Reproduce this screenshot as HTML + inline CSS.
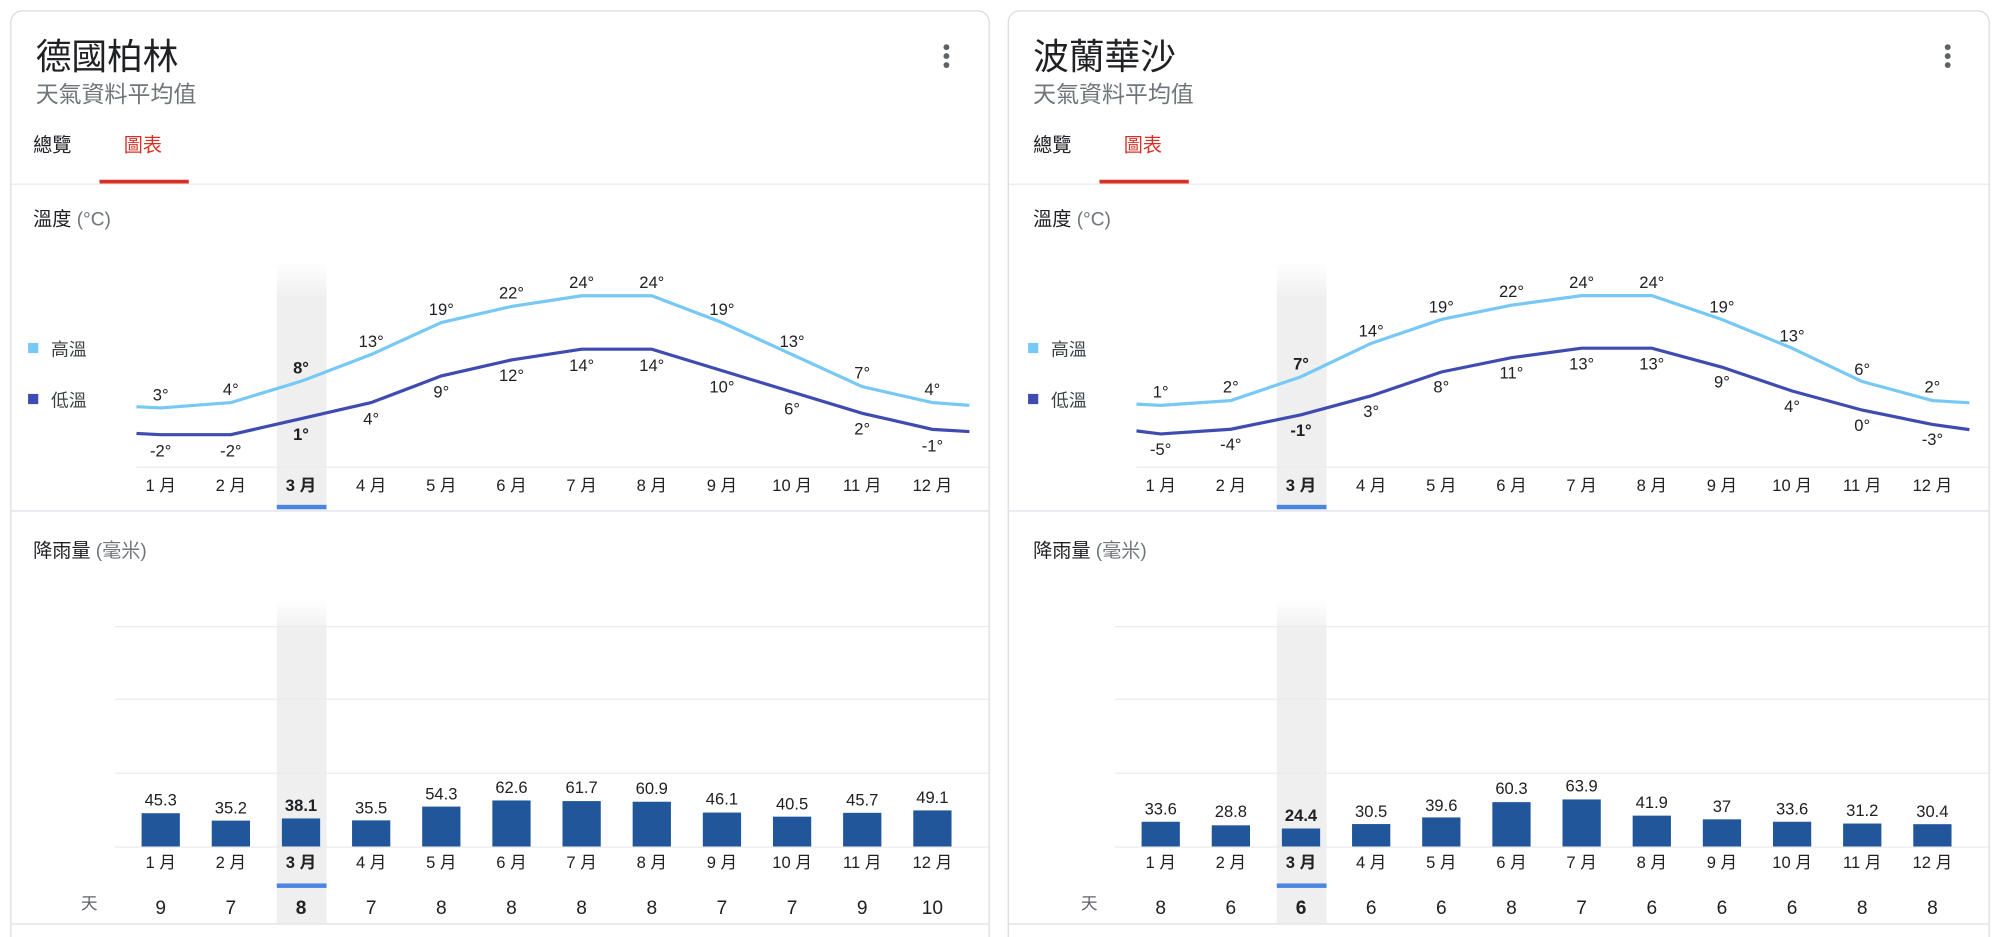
<!DOCTYPE html>
<html><head><meta charset="utf-8"><style>
html,body{margin:0;padding:0;background:#fff;}
svg{display:block;}
text{font-family:"Liberation Sans","Noto Sans CJK TC",sans-serif;fill:#202124;}
.t{font-size:28px;}
.s{font-size:18px;fill:#70757a;}
.tab{font-size:15px;}
.h{font-size:15px;}
.g{fill:#70757a;}
.m{font-size:13px;text-anchor:middle;fill:#3c4043;}
.v{font-size:13px;text-anchor:middle;fill:#3c4043;}
.b{font-weight:bold;fill:#202124;}
.d{font-size:15px;text-anchor:middle;fill:#202124;}
</style></head><body>
<svg width="2000" height="937" viewBox="0 0 1568 735" preserveAspectRatio="none" xmlns="http://www.w3.org/2000/svg">
<defs>
<linearGradient id="hl" x1="0" y1="0" x2="0" y2="1"><stop offset="0" stop-color="#f1f1f1" stop-opacity="0"/><stop offset="0.15" stop-color="#efefef"/><stop offset="1" stop-color="#efefef"/></linearGradient>
<linearGradient id="hl2" x1="0" y1="0" x2="0" y2="1"><stop offset="0" stop-color="#f1f1f1" stop-opacity="0"/><stop offset="0.1" stop-color="#efefef"/><stop offset="1" stop-color="#efefef"/></linearGradient>
</defs>

<!-- CARD 1 -->
<g>
<rect x="8.5" y="8.5" width="767" height="740" rx="9" fill="#fff" stroke="#dadce0"/>
<text x="28" y="54" class="t">德國柏林</text>
<text x="28" y="80" class="s">天氣資料平均值</text>
<circle cx="742" cy="37" r="2.3" fill="#5f6368"/><circle cx="742" cy="44" r="2.3" fill="#5f6368"/><circle cx="742" cy="51" r="2.3" fill="#5f6368"/>
<text x="26" y="119" class="tab">總覽</text>
<text x="97" y="119" class="tab" style="fill:#d93025">圖表</text>
<rect x="78" y="141" width="70" height="3" fill="#d93025"/>
<rect x="9" y="144" width="766" height="1" fill="#e8eaed"/>
<text x="26" y="177" class="h">溫度 <tspan class="g">(°C)</tspan></text>
<rect x="217" y="205" width="39" height="192" fill="url(#hl)"/>
<rect x="22" y="269" width="8" height="8" fill="#76c8f5"/><text x="40" y="279" style="font-size:14px;fill:#3c4043">高溫</text>
<rect x="22" y="309" width="8" height="8" fill="#3f4bb0"/><text x="40" y="319" style="font-size:14px;fill:#3c4043">低溫</text>
<polyline fill="none" stroke="#76c8f5" stroke-width="2.5" points="107,319 126,320 181,315.8 236,299.1 291,278.1 346,253 401,240.4 456,232 511,232 566,253 621,278.1 676,303.3 731,315.8 760,318"/>
<polyline fill="none" stroke="#3f4bb0" stroke-width="2.5" points="107,340 126,341 181,341 236,328.4 291,315.8 346,294.9 401,282.3 456,273.9 511,273.9 566,290.7 621,307.5 676,324.2 731,336.8 760,338.5"/>
<g class="v">
<text x="126" y="314">3°</text><text x="181" y="310">4°</text><text x="236" y="293" class="b">8°</text><text x="291" y="272">13°</text><text x="346" y="247">19°</text><text x="401" y="234">22°</text><text x="456" y="226">24°</text><text x="511" y="226">24°</text><text x="566" y="247">19°</text><text x="621" y="272">13°</text><text x="676" y="297">7°</text><text x="731" y="310">4°</text>
<text x="126" y="358">-2°</text><text x="181" y="358">-2°</text><text x="236" y="345" class="b">1°</text><text x="291" y="333">4°</text><text x="346" y="312">9°</text><text x="401" y="299">12°</text><text x="456" y="291">14°</text><text x="511" y="291">14°</text><text x="566" y="308">10°</text><text x="621" y="325">6°</text><text x="676" y="341">2°</text><text x="731" y="354">-1°</text>
</g>
<rect x="107" y="366" width="668" height="1" fill="#ebebeb"/>
<g class="m">
<text x="126" y="385">1 月</text><text x="181" y="385">2 月</text><text x="236" y="385" class="b">3 月</text><text x="291" y="385">4 月</text><text x="346" y="385">5 月</text><text x="401" y="385">6 月</text><text x="456" y="385">7 月</text><text x="511" y="385">8 月</text><text x="566" y="385">9 月</text><text x="621" y="385">10 月</text><text x="676" y="385">11 月</text><text x="731" y="385">12 月</text>
</g>
<rect x="217" y="396" width="39" height="3.5" fill="#4a86e0"/>
<rect x="9" y="400" width="766" height="1.5" fill="#e8eaed"/>
<text x="26" y="437" class="h">降雨量 <tspan class="g">(毫米)</tspan></text>
<rect x="217" y="470" width="39" height="255" fill="url(#hl2)"/>
<rect x="90" y="491" width="685" height="1" fill="#ebebeb"/>
<rect x="90" y="548" width="685" height="1" fill="#ebebeb"/>
<rect x="90" y="606" width="685" height="1" fill="#ebebeb"/>
<rect x="90" y="664" width="685" height="1" fill="#ebebeb"/>
<g fill="#21579a">
<rect x="111" y="637.9" width="30" height="26.1"/><rect x="166" y="643.7" width="30" height="20.3"/><rect x="221" y="642" width="30" height="22"/><rect x="276" y="643.5" width="30" height="20.5"/><rect x="331" y="632.7" width="30" height="31.3"/><rect x="386" y="627.9" width="30" height="36.1"/><rect x="441" y="628.4" width="30" height="35.6"/><rect x="496" y="628.9" width="30" height="35.1"/><rect x="551" y="637.4" width="30" height="26.6"/><rect x="606" y="640.6" width="30" height="23.4"/><rect x="661" y="637.6" width="30" height="26.4"/><rect x="716" y="635.7" width="30" height="28.3"/>
</g>
<g class="v">
<text x="126" y="632">45.3</text><text x="181" y="638">35.2</text><text x="236" y="636" class="b">38.1</text><text x="291" y="638">35.5</text><text x="346" y="627">54.3</text><text x="401" y="622">62.6</text><text x="456" y="622">61.7</text><text x="511" y="623">60.9</text><text x="566" y="631">46.1</text><text x="621" y="635">40.5</text><text x="676" y="632">45.7</text><text x="731" y="630">49.1</text>
</g>
<g class="m">
<text x="126" y="681">1 月</text><text x="181" y="681">2 月</text><text x="236" y="681" class="b">3 月</text><text x="291" y="681">4 月</text><text x="346" y="681">5 月</text><text x="401" y="681">6 月</text><text x="456" y="681">7 月</text><text x="511" y="681">8 月</text><text x="566" y="681">9 月</text><text x="621" y="681">10 月</text><text x="676" y="681">11 月</text><text x="731" y="681">12 月</text>
</g>
<rect x="217" y="693" width="39" height="3.5" fill="#4a86e0"/>
<text x="70" y="713" style="font-size:13px;fill:#5f6368;text-anchor:middle">天</text>
<g class="d">
<text x="126" y="717">9</text><text x="181" y="717">7</text><text x="236" y="717" class="b">8</text><text x="291" y="717">7</text><text x="346" y="717">8</text><text x="401" y="717">8</text><text x="456" y="717">8</text><text x="511" y="717">8</text><text x="566" y="717">7</text><text x="621" y="717">7</text><text x="676" y="717">9</text><text x="731" y="717">10</text>
</g>
<rect x="9" y="724" width="766" height="1.5" fill="#e8eaed"/>
</g>

<!-- CARD 2 -->
<g transform="translate(784,0)">
<rect x="6.5" y="8.5" width="769" height="740" rx="9" fill="#fff" stroke="#dadce0"/>
<text x="26" y="54" class="t">波蘭華沙</text>
<text x="26" y="80" class="s">天氣資料平均值</text>
<circle cx="743" cy="37" r="2.3" fill="#5f6368"/><circle cx="743" cy="44" r="2.3" fill="#5f6368"/><circle cx="743" cy="51" r="2.3" fill="#5f6368"/>
<text x="26" y="119" class="tab">總覽</text>
<text x="97" y="119" class="tab" style="fill:#d93025">圖表</text>
<rect x="78" y="141" width="70" height="3" fill="#d93025"/>
<rect x="7" y="144" width="768" height="1" fill="#e8eaed"/>
<text x="26" y="177" class="h">溫度 <tspan class="g">(°C)</tspan></text>
<rect x="217" y="205" width="39" height="192" fill="url(#hl)"/>
<rect x="22" y="269" width="8" height="8" fill="#76c8f5"/><text x="40" y="279" style="font-size:14px;fill:#3c4043">高溫</text>
<rect x="22" y="309" width="8" height="8" fill="#3f4bb0"/><text x="40" y="319" style="font-size:14px;fill:#3c4043">低溫</text>
<polyline fill="none" stroke="#76c8f5" stroke-width="2.5" points="107,317 126,318 181,314.2 236,295.5 291,269.3 346,250.6 401,239.4 456,231.9 511,231.9 566,250.6 621,273.1 676,299.3 731,314.2 760,316"/>
<polyline fill="none" stroke="#3f4bb0" stroke-width="2.5" points="107,338 126,340.4 181,336.7 236,325.4 291,310.5 346,291.8 401,280.6 456,273.1 511,273.1 566,288 621,306.7 676,321.7 731,332.9 760,337"/>
<g class="v">
<text x="126" y="312">1°</text><text x="181" y="308">2°</text><text x="236" y="290" class="b">7°</text><text x="291" y="264">14°</text><text x="346" y="245">19°</text><text x="401" y="233">22°</text><text x="456" y="226">24°</text><text x="511" y="226">24°</text><text x="566" y="245">19°</text><text x="621" y="268">13°</text><text x="676" y="294">6°</text><text x="731" y="308">2°</text>
<text x="126" y="357">-5°</text><text x="181" y="353">-4°</text><text x="236" y="342" class="b">-1°</text><text x="291" y="327">3°</text><text x="346" y="308">8°</text><text x="401" y="297">11°</text><text x="456" y="290">13°</text><text x="511" y="290">13°</text><text x="566" y="304">9°</text><text x="621" y="323">4°</text><text x="676" y="338">0°</text><text x="731" y="349">-3°</text>
</g>
<rect x="107" y="366" width="668" height="1" fill="#ebebeb"/>
<g class="m">
<text x="126" y="385">1 月</text><text x="181" y="385">2 月</text><text x="236" y="385" class="b">3 月</text><text x="291" y="385">4 月</text><text x="346" y="385">5 月</text><text x="401" y="385">6 月</text><text x="456" y="385">7 月</text><text x="511" y="385">8 月</text><text x="566" y="385">9 月</text><text x="621" y="385">10 月</text><text x="676" y="385">11 月</text><text x="731" y="385">12 月</text>
</g>
<rect x="217" y="396" width="39" height="3.5" fill="#4a86e0"/>
<rect x="7" y="400" width="768" height="1.5" fill="#e8eaed"/>
<text x="26" y="437" class="h">降雨量 <tspan class="g">(毫米)</tspan></text>
<rect x="217" y="470" width="39" height="255" fill="url(#hl2)"/>
<rect x="90" y="491" width="685" height="1" fill="#ebebeb"/>
<rect x="90" y="548" width="685" height="1" fill="#ebebeb"/>
<rect x="90" y="606" width="685" height="1" fill="#ebebeb"/>
<rect x="90" y="664" width="685" height="1" fill="#ebebeb"/>
<g fill="#21579a">
<rect x="111" y="644.6" width="30" height="19.4"/><rect x="166" y="647.4" width="30" height="16.6"/><rect x="221" y="649.9" width="30" height="14.1"/><rect x="276" y="646.4" width="30" height="17.6"/><rect x="331" y="641.2" width="30" height="22.8"/><rect x="386" y="629.2" width="30" height="34.8"/><rect x="441" y="627.1" width="30" height="36.9"/><rect x="496" y="639.8" width="30" height="24.2"/><rect x="551" y="642.7" width="30" height="21.3"/><rect x="606" y="644.6" width="30" height="19.4"/><rect x="661" y="646" width="30" height="18"/><rect x="716" y="646.5" width="30" height="17.5"/>
</g>
<g class="v">
<text x="126" y="639">33.6</text><text x="181" y="641">28.8</text><text x="236" y="644" class="b">24.4</text><text x="291" y="641">30.5</text><text x="346" y="636">39.6</text><text x="401" y="623">60.3</text><text x="456" y="621">63.9</text><text x="511" y="634">41.9</text><text x="566" y="637">37</text><text x="621" y="639">33.6</text><text x="676" y="640">31.2</text><text x="731" y="641">30.4</text>
</g>
<g class="m">
<text x="126" y="681">1 月</text><text x="181" y="681">2 月</text><text x="236" y="681" class="b">3 月</text><text x="291" y="681">4 月</text><text x="346" y="681">5 月</text><text x="401" y="681">6 月</text><text x="456" y="681">7 月</text><text x="511" y="681">8 月</text><text x="566" y="681">9 月</text><text x="621" y="681">10 月</text><text x="676" y="681">11 月</text><text x="731" y="681">12 月</text>
</g>
<rect x="217" y="693" width="39" height="3.5" fill="#4a86e0"/>
<text x="70" y="713" style="font-size:13px;fill:#5f6368;text-anchor:middle">天</text>
<g class="d">
<text x="126" y="717">8</text><text x="181" y="717">6</text><text x="236" y="717" class="b">6</text><text x="291" y="717">6</text><text x="346" y="717">6</text><text x="401" y="717">8</text><text x="456" y="717">7</text><text x="511" y="717">6</text><text x="566" y="717">6</text><text x="621" y="717">6</text><text x="676" y="717">8</text><text x="731" y="717">8</text>
</g>
<rect x="7" y="724" width="768" height="1.5" fill="#e8eaed"/>
</g>
</svg>
</body></html>
